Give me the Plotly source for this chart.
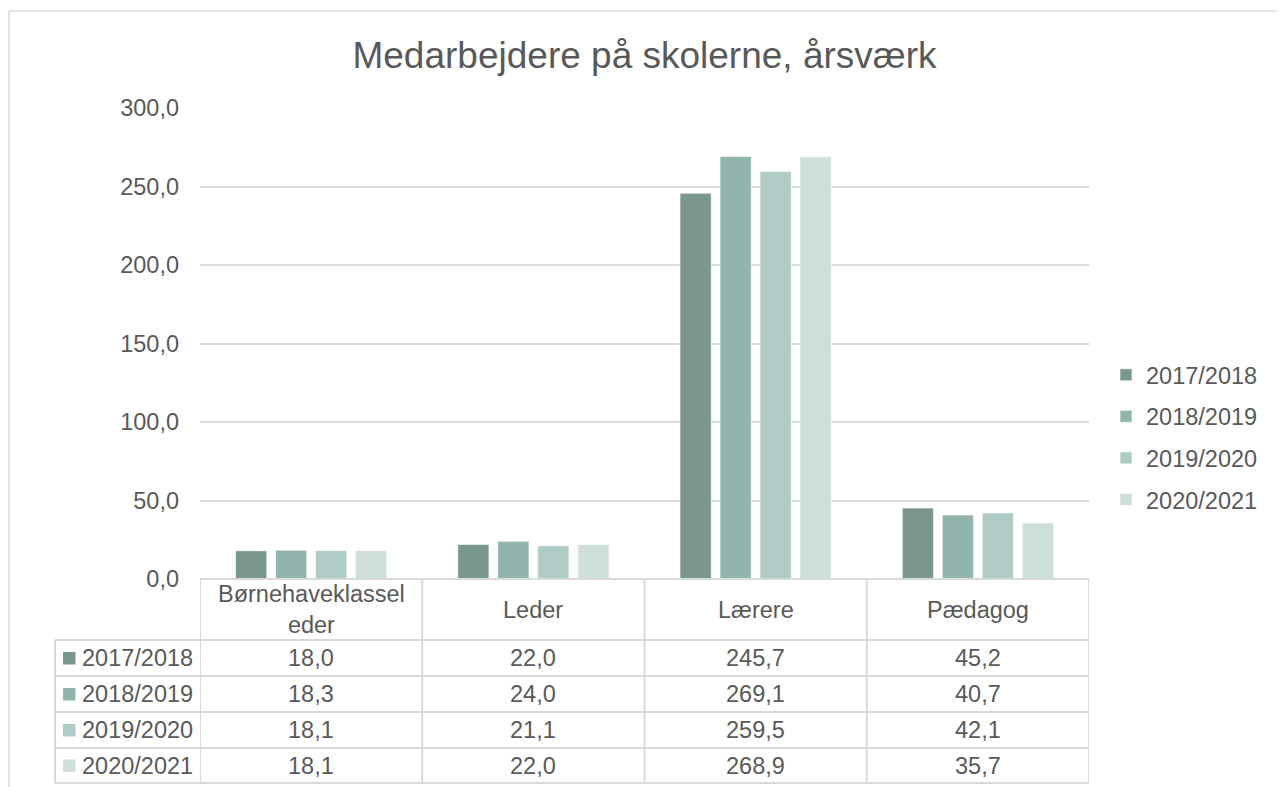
import plotly.graph_objects as go

# ---- data ----
categories = ["Børnehaveklasseleder", "Leder", "Lærere", "Pædagog"]
header_labels = ["Børnehaveklassel<br>eder", "Leder", "Lærere", "Pædagog"]
series_names = ["2017/2018", "2018/2019", "2019/2020", "2020/2021"]
v_2017_2018 = [18.0, 22.0, 245.7, 45.2]
v_2018_2019 = [18.3, 24.0, 269.1, 40.7]
v_2019_2020 = [18.1, 21.1, 259.5, 42.1]
v_2020_2021 = [18.1, 22.0, 268.9, 35.7]
series_values = [v_2017_2018, v_2018_2019, v_2019_2020, v_2020_2021]
colors = ["#7A978F", "#91B5AC", "#AFCBC5", "#CEDEDA"]
y_ticks = [0, 50, 100, 150, 200, 250, 300]
title_text = "Medarbejdere på skolerne, årsværk"

# ---- layout geometry (page pixels; the page body adds an 8px offset) ----
W, H = 1285, 787
OFF = 8
L, R = 200, 1089
T, B = 108, 579
FONT = "Liberation Sans, Arial, sans-serif"
TXT = "#595959"
GRID = "#D9D9D9"
FS = 23.5


def px(x):
    return (x - L) / (R - L)


def py(y):
    return (B - y) / (B - T)


def fmt(v):
    return f"{v:.1f}".replace(".", ",")


fig = go.Figure()
for name, vals, col in zip(series_names, series_values, colors):
    fig.add_trace(go.Bar(
        x=categories, y=vals, name=name, legendgroup=name,
        marker=dict(color=col, line=dict(color="rgba(255,255,255,0.6)", width=1)),
        hoverinfo="skip",
    ))

shapes = []
annotations = []

# table lines
rows = [579, 640, 676, 712, 748, 783]
left_col = 55
shapes.append(dict(type="line", xref="paper", yref="paper", x0=0, x1=1,
                   y0=py(579), y1=py(579), line=dict(color=GRID, width=2)))
for yy in rows[1:]:
    shapes.append(dict(type="line", xref="paper", yref="paper", x0=px(left_col), x1=1,
                       y0=py(yy), y1=py(yy), line=dict(color=GRID, width=2)))
for i in range(len(categories) + 1):
    shapes.append(dict(type="line", xref="x", yref="paper", x0=i - 0.5, x1=i - 0.5,
                       y0=py(579), y1=py(783), line=dict(color=GRID, width=2)))
shapes.append(dict(type="line", xref="paper", yref="paper", x0=px(left_col), x1=px(left_col),
                   y0=py(640), y1=py(783), line=dict(color=GRID, width=2)))

# header labels
for i, lab in enumerate(header_labels):
    annotations.append(dict(x=categories[i], xref="x", y=py(609.5), yref="paper",
                            text=lab, showarrow=False, yanchor="middle", xanchor="center",
                            font=dict(size=FS, color=TXT, family=FONT)))

# data rows
for r, (name, vals, col) in enumerate(zip(series_names, series_values, colors)):
    yc = (rows[r + 1] + rows[r + 2]) / 2
    shapes.append(dict(type="rect", xref="paper", yref="paper",
                       x0=px(63), x1=px(75.5), y0=py(yc - 6), y1=py(yc + 6.5),
                       fillcolor=col, line=dict(width=0)))
    annotations.append(dict(x=px(80), xref="paper", y=py(yc), yref="paper",
                            text=name, showarrow=False, xanchor="left", yanchor="middle",
                            font=dict(size=FS, color=TXT, family=FONT)))
    for i, v in enumerate(vals):
        annotations.append(dict(x=categories[i], xref="x", y=py(yc), yref="paper",
                                text=fmt(v), showarrow=False, xanchor="center", yanchor="middle",
                                font=dict(size=FS, color=TXT, family=FONT)))

# outer chart border (top and left visible)
shapes.append(dict(type="line", xref="paper", yref="paper", x0=px(9), x1=px(1300),
                   y0=py(11), y1=py(11), line=dict(color=GRID, width=1.5)))
shapes.append(dict(type="line", xref="paper", yref="paper", x0=px(9), x1=px(9),
                   y0=py(11), y1=py(800), line=dict(color=GRID, width=1.5)))

fig.update_layout(
    width=W, height=H,
    margin=dict(l=L - OFF, r=W - (R - OFF), t=T - OFF, b=H - (B - OFF), pad=0),
    paper_bgcolor="white", plot_bgcolor="white",
    separators=",.",
    font=dict(family=FONT, color=TXT, size=FS),
    title=dict(text=title_text, x=0.5, xref="paper", xanchor="center",
               y=1 - (55 - OFF) / H, yanchor="middle",
               font=dict(size=37, color=TXT, family=FONT)),
    barmode="group", bargap=0.28, bargroupgap=0.22,
    xaxis=dict(range=[-0.5, 3.5], showticklabels=False, showgrid=False,
               zeroline=False, showline=False, ticks=""),
    yaxis=dict(range=[0, 300], tickvals=y_ticks, tickformat=".1f",
               showgrid=True, gridcolor=GRID, gridwidth=2, zeroline=False,
               showline=False, ticks="", ticklabelstandoff=20,
               tickfont=dict(size=FS, color=TXT, family=FONT)),
    legend=dict(x=px(1106), xanchor="left", y=py(353), yanchor="top",
                font=dict(size=FS, color=TXT, family=FONT),
                tracegroupgap=8, traceorder="grouped", bgcolor="rgba(0,0,0,0)"),
    shapes=shapes, annotations=annotations,
    hovermode=False,
)

fig.write_html("out.html")
